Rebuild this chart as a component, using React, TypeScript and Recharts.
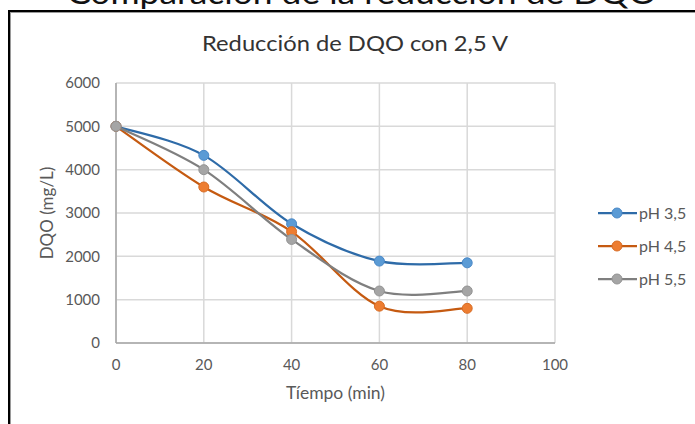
import React from 'react';
import { LineChart, Line, XAxis, YAxis, CartesianGrid, Label } from 'recharts';

const times = [0, 20, 40, 60, 80];
const ph35 = [5000, 4330, 2750, 1890, 1850];
const ph45 = [5000, 3600, 2570, 850, 800];
const ph55 = [5000, 4000, 2390, 1200, 1200];
const seriesNames = ['pH 3,5', 'pH 4,5', 'pH 5,5'];
const xTicks = [0, 20, 40, 60, 80, 100];
const yTicks = [0, 1000, 2000, 3000, 4000, 5000, 6000];
const chartTitle = 'Reducción de DQO con 2,5 V';
const pageTitle = 'Comparación de la reducción de DQO';
const xLabel = 'Tíempo (min)';
const yLabel = 'DQO (mg/L)';

const data = times.map((t, i) => ({ t, a: ph35[i], b: ph45[i], c: ph55[i] }));

const series = [
  { key: 'a', name: seriesNames[0], line: '#2E6BA8', fill: '#5B9BD5', stroke: '#4A88C7' },
  { key: 'b', name: seriesNames[1], line: '#C55A11', fill: '#ED7D31', stroke: '#D86C24' },
  { key: 'c', name: seriesNames[2], line: '#7F7F7F', fill: '#A5A5A5', stroke: '#939393' },
];

function excelSmooth(context: any) {
  let pts: number[][] = [];
  return {
    areaStart() {},
    areaEnd() {},
    lineStart() {
      pts = [];
    },
    point(x: number, y: number) {
      pts.push([+x, +y]);
    },
    lineEnd() {
      const n = pts.length;
      if (!n) return;
      context.moveTo(pts[0][0], pts[0][1]);
      for (let i = 0; i < n - 1; i++) {
        const p0 = pts[i - 1] || pts[i];
        const p1 = pts[i];
        const p2 = pts[i + 1];
        const p3 = pts[i + 2] || pts[i + 1];
        context.bezierCurveTo(
          p1[0] + (p2[0] - p0[0]) / 6,
          p1[1] + (p2[1] - p0[1]) / 6,
          p2[0] - (p3[0] - p1[0]) / 6,
          p2[1] - (p3[1] - p1[1]) / 6,
          p2[0],
          p2[1]
        );
      }
    },
  };
}

const FONT = 'Lato, "Open Sans", sans-serif';

export default function App() {
  return (
    <div
      style={{
        position: 'absolute',
        left: 0,
        top: 0,
        width: 695,
        height: 424,
        overflow: 'hidden',
        background: '#fff',
        fontFamily: FONT,
      }}
    >
      <svg width={695} height={12} style={{ position: 'absolute', left: 0, top: 0 }}>
        <text x={67} y={4} fontSize={30} fill="#111" textLength={590} lengthAdjust="spacingAndGlyphs" fontFamily={FONT}>
          {pageTitle}
        </text>
      </svg>
      <div
        style={{
          position: 'absolute',
          left: 8,
          top: 10,
          width: 800,
          height: 500,
          borderLeft: '2px solid #000',
          borderTop: '2px solid #000',
          boxShadow: 'inset 1px 1px 0 #9a9a9a',
        }}
      />
      <div style={{ position: 'absolute', left: 0, top: 0 }}>
        <LineChart width={695} height={424} data={data} margin={{ top: 83, right: 140, bottom: 21, left: 0 }}>
          <CartesianGrid stroke="#d9d9d9" strokeWidth={1.5} />
          <XAxis
            dataKey="t"
            type="number"
            domain={[0, 100]}
            ticks={xTicks}
            height={60}
            axisLine={{ stroke: '#a6a6a6', strokeWidth: 1.5 }}
            tickLine={false}
            tickMargin={10}
            tick={{ fill: '#595959', fontSize: 15, fontFamily: FONT }}
          >
            <Label value={xLabel} position="center" dy={20} fill="#595959" fontSize={17.5} fontFamily={FONT} />
          </XAxis>
          <YAxis
            type="number"
            domain={[0, 6000]}
            ticks={yTicks}
            width={116}
            axisLine={{ stroke: '#a6a6a6', strokeWidth: 1.5 }}
            tickLine={false}
            tickMargin={10}
            tick={{ fill: '#595959', fontSize: 15, fontFamily: FONT }}
          >
            <Label value={yLabel} position="center" angle={-90} dx={-11} fill="#595959" fontSize={17} fontFamily={FONT} />
          </YAxis>
          {series.map((s) => (
            <Line
              key={s.key}
              dataKey={s.key}
              name={s.name}
              type={excelSmooth as any}
              stroke={s.line}
              strokeWidth={2.25}
              dot={{ r: 5, fill: s.fill, stroke: s.stroke, strokeWidth: 1 }}
              activeDot={false}
              isAnimationActive={false}
            />
          ))}
        </LineChart>
      </div>
      <svg width={695} height={424} style={{ position: 'absolute', left: 0, top: 0, pointerEvents: 'none' }}>
        <text x={202} y={51} fontSize={22} fill="#333" textLength={306} lengthAdjust="spacingAndGlyphs" fontFamily={FONT}>
          {chartTitle}
        </text>
        {series.map((s, i) => {
          const y = 213 + i * 33;
          return (
            <g key={s.key}>
              <line x1={598} x2={637} y1={y} y2={y} stroke={s.line} strokeWidth={2.25} />
              <circle cx={617} cy={y} r={5} fill={s.fill} stroke={s.stroke} strokeWidth={1} />
              <text x={639} y={y + 5.5} fontSize={16} fill="#595959" fontFamily={FONT}>
                {s.name}
              </text>
            </g>
          );
        })}
      </svg>
    </div>
  );
}
